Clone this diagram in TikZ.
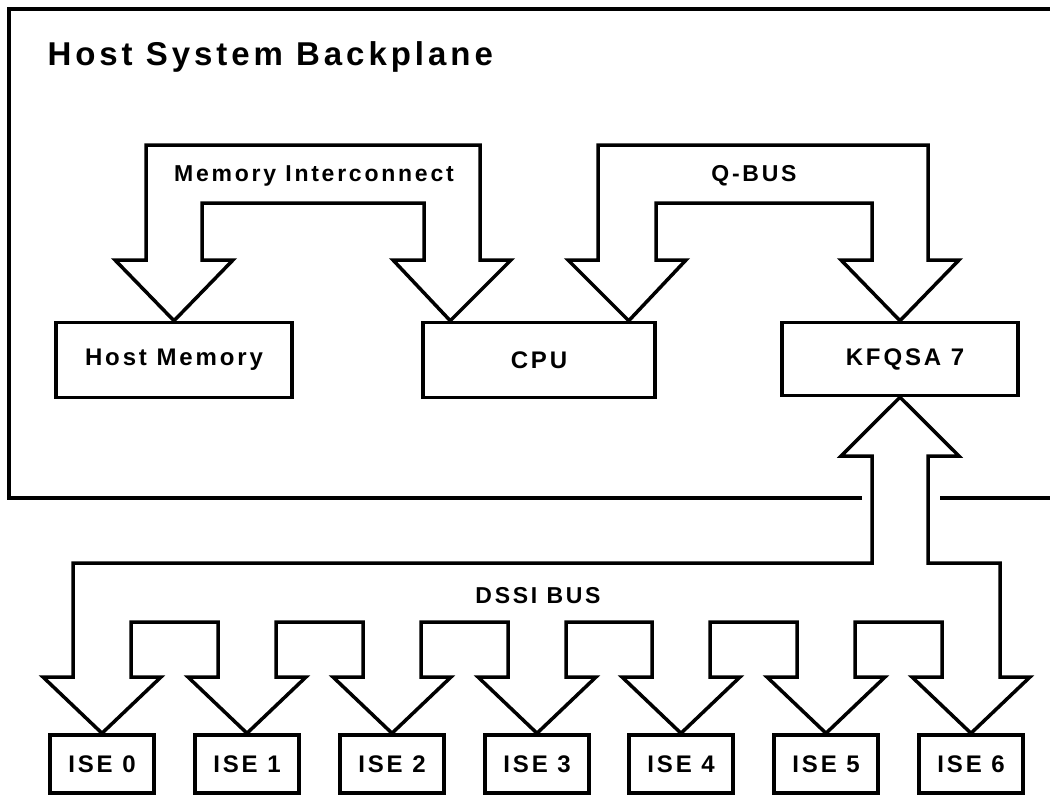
\documentclass[tikz,border=0pt]{standalone}
\usepackage{fontspec}
\setmainfont{Liberation Sans}[LetterSpace=12]
\usetikzlibrary{calc}

\begin{document}
\begin{tikzpicture}[x=1pt, y=-1pt,
	box/.style = {draw, line width=3.5pt, inner sep=0pt, font=\fontsize{24}{28}\selectfont\bfseries},
	buslabel/.style = {font=\fontsize{23}{26}\selectfont\bfseries},
	bus/.style = {line width=3.5pt, line join=miter}]
	
	\clip (0,0) rectangle (1050,796);
	
	% backplane frame
	\draw[line width=3.8pt] (862,498) -- (9,498) -- (9,9) -- (1070,9);
	\draw[line width=3.8pt] (940,498) -- (1070,498);
	\node[anchor=west, font=\fontsize{33}{38}\selectfont\bfseries] (title) at (44,57) {Host System Backplane};
	
	% boxes
	\node[box, minimum width=236pt, minimum height=75pt] (mem) at (174,360) {Host Memory};
	\node[box, minimum width=232pt, minimum height=75pt] (cpu) at (539,360) {CPU};
	\node[box, minimum width=236pt, minimum height=73pt] (kfqsa) at (900,359) {\hspace{10pt}KFQSA 7};
	
	\node[box, minimum width=104pt, minimum height=58pt] (ise0) at (102,764) {ISE 0};
	\node[box, minimum width=104pt, minimum height=58pt] (ise1) at (247,764) {ISE 1};
	\node[box, minimum width=104pt, minimum height=58pt] (ise2) at (392,764) {ISE 2};
	\node[box, minimum width=104pt, minimum height=58pt] (ise3) at (537,764) {ISE 3};
	\node[box, minimum width=104pt, minimum height=58pt] (ise4) at (681,764) {ISE 4};
	\node[box, minimum width=104pt, minimum height=58pt] (ise5) at (826,764) {ISE 5};
	\node[box, minimum width=104pt, minimum height=58pt] (ise6) at (971,764) {ISE 6};
	
	% memory interconnect
	\draw[bus] (mem.north) -- (115,260) -- (146,260) -- (146,145) -- (480,145) -- (480,260) -- (511,260)
		-- ([xshift=29pt]cpu.north west) -- (393,260) -- (424,260) -- (424,203) -- (202,203) -- (202,260) -- (233,260) -- cycle;
	\node[buslabel] (memlabel) at (314,176) {Memory Interconnect};
	
	% q-bus
	\draw[bus] ([xshift=-28pt]cpu.north east) -- (568,260) -- (598,260) -- (598,145) -- (928,145) -- (928,260) -- (959,260)
		-- (kfqsa.north) -- (841,260) -- (872,260) -- (872,203) -- (656,203) -- (656,260) -- (686,260) -- cycle;
	\node[buslabel] (qbuslabel) at (754,176) {Q-BUS};
	
	% dssi bus
	\draw[bus] (kfqsa.south) -- (959,456) -- (928,456) -- (928,563) -- (1000,563) -- (1000,677) -- (1030,677)
		-- (ise6.north) -- (912,677) -- (942,677) -- (942,622) -- (855,622) -- (855,677) -- (885,677)
		-- (ise5.north) -- (767,677) -- (797,677) -- (797,622) -- (710,622) -- (710,677) -- (740,677)
		-- (ise4.north) -- (622,677) -- (652,677) -- (652,622) -- (566,622) -- (566,677) -- (596,677)
		-- (ise3.north) -- (478,677) -- (508,677) -- (508,622) -- (421,622) -- (421,677) -- (451,677)
		-- (ise2.north) -- (333,677) -- (363,677) -- (363,622) -- (276,622) -- (276,677) -- (306,677)
		-- (ise1.north) -- (188,677) -- (218,677) -- (218,622) -- (131,622) -- (131,677) -- (161,677)
		-- (ise0.north) -- (43,677) -- (73,677) -- (73,563) -- (872,563) -- (872,456) -- (841,456) -- cycle;
	\node[buslabel] (dssilabel) at (538,596) {DSSI BUS};
	
\end{tikzpicture}
\end{document}
